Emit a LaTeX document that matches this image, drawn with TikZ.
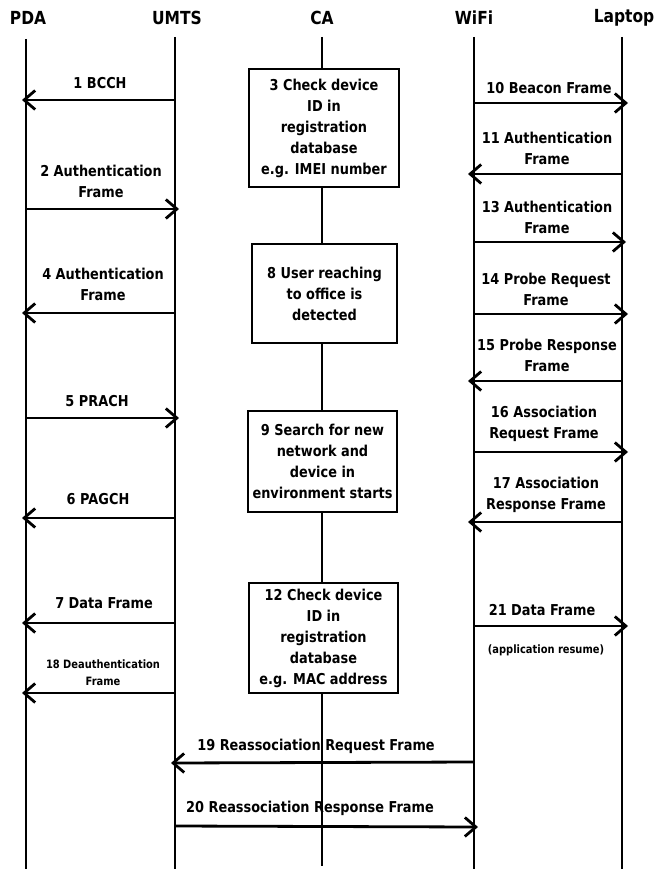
\documentclass[tikz,border=0pt]{standalone}
\usepackage{fontspec}
\setmainfont{DejaVu Sans}[FakeStretch=0.86]
\usetikzlibrary{arrows.meta}
\begin{document}
\begin{tikzpicture}[x=1pt,y=-1pt,
  life/.style={line width=2.8pt},
  msg/.style={line width=2.8pt,-{Straight Barb[length=11pt,width=19pt]}},
  head/.style={font=\bfseries\fontsize{18}{20}\selectfont,inner sep=0pt},
  lbl/.style={font=\bfseries\fontsize{15}{21}\selectfont,align=center,inner sep=0pt},
  small/.style={font=\bfseries\fontsize{11.5}{17}\selectfont,align=center,inner sep=0pt},
  cabox/.style={draw,line width=2.8pt,fill=white,align=center,inner sep=0pt,
    font=\bfseries\fontsize{15}{21}\selectfont}]
\useasboundingbox (0,0) rectangle (654,869);

% participants
\node[head] (hpda) at (28,18) {PDA};
\node[head] (humts) at (177,18) {UMTS};
\node[head] (hca) at (322,18) {CA};
\node[head] (hwifi) at (474,18) {WiFi};
\node[head] (hlap) at (624,18) {Laptop};

% lifeline ends
\coordinate (pdaT) at (26,39);  \coordinate (pdaB) at (26,869);
\coordinate (umtsT) at (175,37); \coordinate (umtsB) at (175,869);
\coordinate (caT) at (322,37);  \coordinate (caB) at (322,866);
\coordinate (wifiT) at (474,37); \coordinate (wifiB) at (474,869);
\coordinate (lapT) at (622,37); \coordinate (lapB) at (622,869);

\draw[life] (pdaT) -- (pdaB);
\draw[life] (umtsT) -- (umtsB);
\draw[life] (caT) -- (caB);
\draw[life] (wifiT) -- (wifiB);
\draw[life] (lapT) -- (lapB);

% CA processing steps
\node[cabox,minimum width=150pt,minimum height=118pt] (ca3) at (324,128)
  {3 Check device\\ID in\\registration\\database\\e.g. IMEI number};
\node[cabox,minimum width=145pt,minimum height=99pt] (ca8) at (324.5,293.5)
  {8 User reaching\\to office is\\detected};
\node[cabox,minimum width=149pt,minimum height=101pt] (ca9) at (322.5,461.5)
  {9 Search for new\\network and\\device in\\environment starts};
\node[cabox,minimum width=149pt,minimum height=110pt] (ca12) at (323.5,638)
  {12 Check device\\ID in\\registration\\database\\e.g. MAC address};

% PDA <-> UMTS messages
\coordinate (m1a) at (175,100); \coordinate (m1b) at (22,100);
\draw[msg] (m1a) -- (m1b);
\node[lbl] (l1) at (100,83) {1 BCCH};

\coordinate (m2a) at (26,209); \coordinate (m2b) at (179,209);
\draw[msg] (m2a) -- (m2b);
\node[lbl] (l2) at (101,181) {2 Authentication\\Frame};

\coordinate (m4a) at (175,313); \coordinate (m4b) at (22,313);
\draw[msg] (m4a) -- (m4b);
\node[lbl] (l4) at (103,284) {4 Authentication\\Frame};

\coordinate (m5a) at (26,418); \coordinate (m5b) at (179,418);
\draw[msg] (m5a) -- (m5b);
\node[lbl] (l5) at (97,401) {5 PRACH};

\coordinate (m6a) at (175,518); \coordinate (m6b) at (22,518);
\draw[msg] (m6a) -- (m6b);
\node[lbl] (l6) at (98,499) {6 PAGCH};

\coordinate (m7a) at (175,623); \coordinate (m7b) at (22,623);
\draw[msg] (m7a) -- (m7b);
\node[lbl] (l7) at (104,603) {7 Data Frame};

\coordinate (m18a) at (175,693); \coordinate (m18b) at (22,693);
\draw[msg] (m18a) -- (m18b);
\node[small] (l18) at (103,673) {18 Deauthentication\\Frame};

% WiFi <-> Laptop messages
\coordinate (m10a) at (474,103); \coordinate (m10b) at (628,103);
\draw[msg] (m10a) -- (m10b);
\node[lbl] (l10) at (549,88) {10 Beacon Frame};

\coordinate (m11a) at (622,174); \coordinate (m11b) at (468,174);
\draw[msg] (m11a) -- (m11b);
\node[lbl] (l11) at (547,148) {11 Authentication\\Frame};

\coordinate (m13a) at (474,242); \coordinate (m13b) at (626,242);
\draw[msg] (m13a) -- (m13b);
\node[lbl] (l13) at (547,217) {13 Authentication\\Frame};

\coordinate (m14a) at (474,314); \coordinate (m14b) at (628,314);
\draw[msg] (m14a) -- (m14b);
\node[lbl] (l14) at (546,289) {14 Probe Request\\Frame};

\coordinate (m15a) at (622,381); \coordinate (m15b) at (468,381);
\draw[msg] (m15a) -- (m15b);
\node[lbl] (l15) at (547,355) {15 Probe Response\\Frame};

\coordinate (m16a) at (474,452); \coordinate (m16b) at (628,452);
\draw[msg] (m16a) -- (m16b);
\node[lbl] (l16) at (544,424) {16 Association\\Request Frame};

\coordinate (m17a) at (622,522); \coordinate (m17b) at (468,522);
\draw[msg] (m17a) -- (m17b);
\node[lbl] (l17) at (546,495) {17 Association\\Response Frame};

\coordinate (m21a) at (474,626); \coordinate (m21b) at (628,626);
\draw[msg] (m21a) -- (m21b);
\node[lbl] (l21) at (542,610) {21 Data Frame};
\node[small] (l21n) at (546,650) {(application resume)};

% WiFi <-> UMTS reassociation
\coordinate (m19a) at (474,762); \coordinate (m19b) at (171,763);
\draw[msg] (m19a) -- (m19b);
\node[lbl] (l19) at (316,746) {19 Reassociation Request Frame};

\coordinate (m20a) at (175,826); \coordinate (m20b) at (478,827);
\draw[msg] (m20a) -- (m20b);
\node[lbl] (l20) at (310,808) {20 Reassociation Response Frame};
\end{tikzpicture}
\end{document}
